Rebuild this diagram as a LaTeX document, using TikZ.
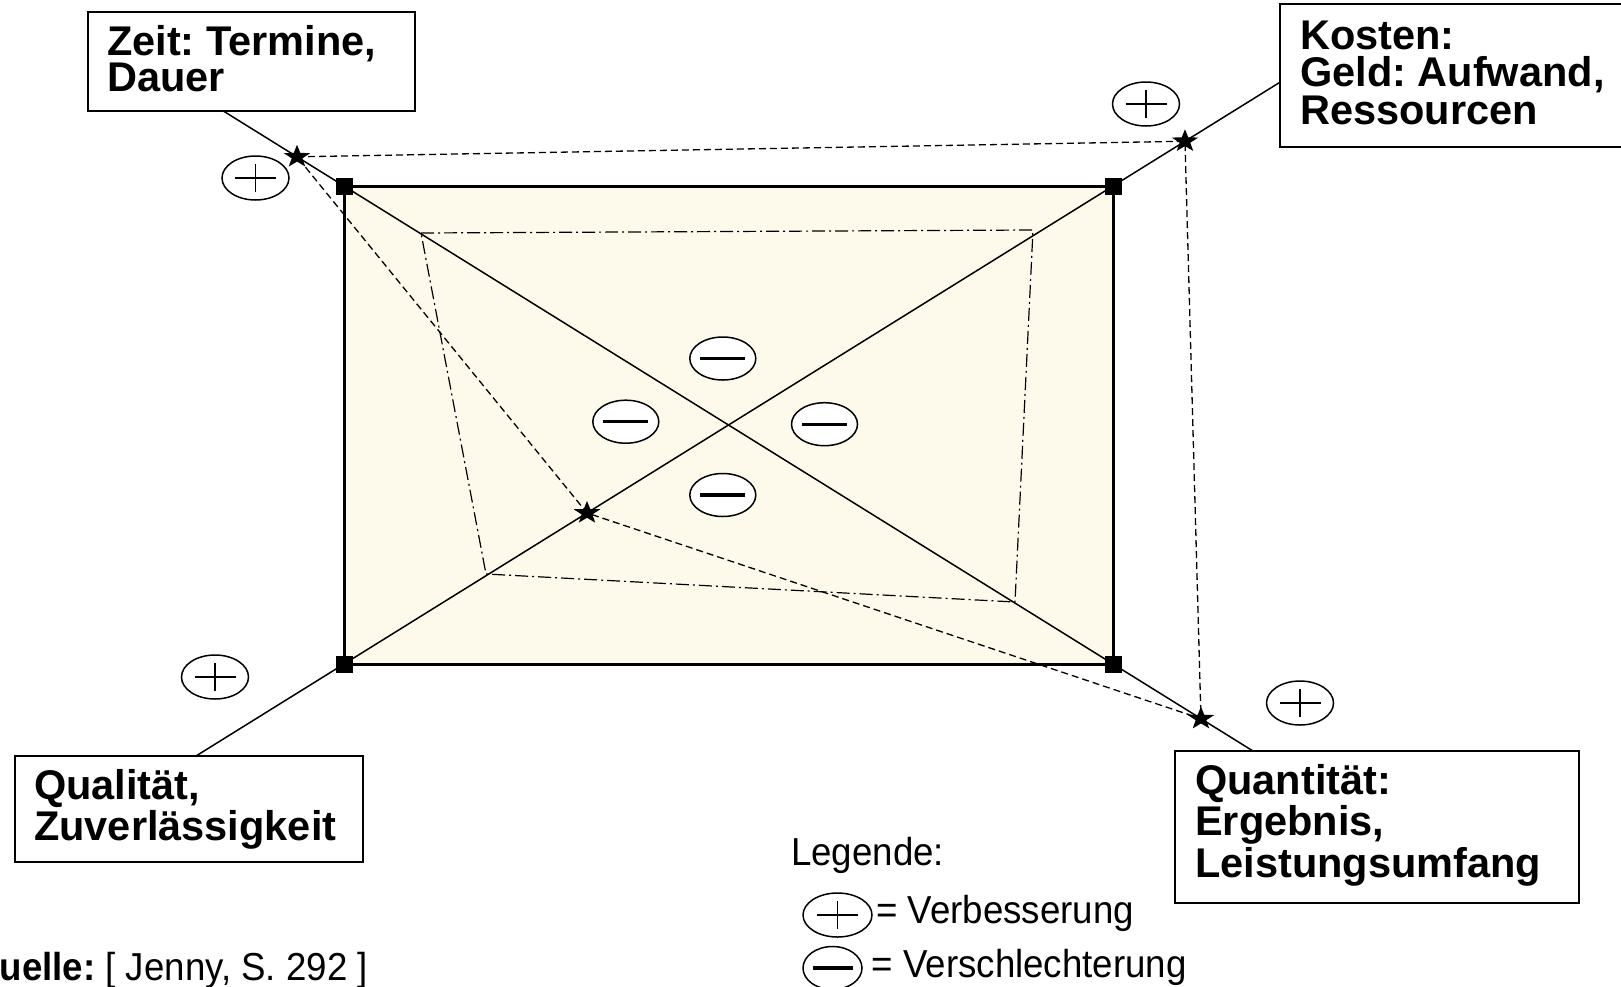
\documentclass[tikz,border=0pt]{standalone}
\usepackage{fontspec}
\setmainfont{Liberation Sans}
\newfontfamily\legendfont[FakeStretch=0.94]{Liberation Sans}
\usetikzlibrary{calc,shapes.geometric}
\definecolor{fieldcream}{RGB}{253,250,235}
\newcommand\tightlines{\lineskiplimit=-100pt\relax\lineskip=0pt\relax}

\begin{document}
\frenchspacing
\begin{tikzpicture}[x=1pt,y=-1pt,
  labelbox/.style={draw=black, line width=2pt, fill=white, inner sep=0pt, outer sep=0pt, anchor=north west},
  labeltext/.style={anchor=north west, inner sep=0pt, align=left,
    font={\bfseries\fontsize{41.5}{#1}\selectfont\tightlines\frenchspacing}},
  legendtext/.style={anchor=base west, inner sep=0pt, font={\legendfont\fontsize{39}{39}\selectfont\frenchspacing}},
  cornermark/.style={fill=black, minimum size=17pt, inner sep=0pt, outer sep=0pt},
  diagline/.style={line width=1.5pt},
  starline/.style={line width=1.3pt, dash pattern=on 7pt off 4pt},
  hullline/.style={line width=1.2pt, dash pattern=on 13pt off 4pt on 2pt off 4pt},
  plusmark/.style={ellipse, draw, fill=white, line width=1.5pt, minimum width=67pt, minimum height=44pt, inner sep=0pt,
    path picture={\draw[line width=1.5pt]
      ([xshift=-20.5pt]path picture bounding box.center) -- ([xshift=20.5pt]path picture bounding box.center)
      ([yshift=-14pt]path picture bounding box.center) -- ([yshift=14pt]path picture bounding box.center);}},
  minusmark/.style={ellipse, draw, fill=white, line width=1.5pt, minimum width=66pt, minimum height=43pt, inner sep=0pt,
    path picture={\draw[line width=3.4pt]
      ([xshift=-22.5pt]path picture bounding box.center) -- ([xshift=22.5pt]path picture bounding box.center);}},
  starmark/.pic={\fill (-90:14 and 12) -- (-54:5.6 and 4.8) -- (-18:14 and 12) -- (18:5.6 and 4.8)
      -- (54:14 and 12) -- (90:5.6 and 4.8) -- (126:14 and 12) -- (162:5.6 and 4.8)
      -- (198:14 and 12) -- (234:5.6 and 4.8) -- cycle;}
]
\path[use as bounding box, clip] (0,0) rectangle (1621,986);

% the field of the four target dimensions
\node[draw, line width=3pt, fill=fieldcream, minimum width=769pt, minimum height=478pt,
      inner sep=0pt, outer sep=0pt] (field) at (728.5,425) {};
\coordinate (cTL) at (field.north west);
\coordinate (cTR) at (field.north east);
\coordinate (cBL) at (field.south west);
\coordinate (cBR) at (field.south east);

% label boxes at the ends of the axes
\node[labelbox, minimum width=327pt, minimum height=99pt] (zeit) at (88,12) {};
\node[labelbox, minimum width=380pt, minimum height=143pt] (kosten) at (1280,4) {};
\node[labelbox, minimum width=348.5pt, minimum height=106.5pt] (quali) at (14.5,755.5) {};
\node[labelbox, minimum width=404pt, minimum height=152pt] (quanti) at (1175,750.5) {};

\node[labeltext=36] (zeittext) at (107,23) {\rule{0pt}{32pt}Zeit: Termine,\\Dauer};
\node[labeltext=37.5] (kostentext) at (1300,17) {\rule{0pt}{32pt}Kosten:\\Geld: Aufwand,\\Ressourcen};
\node[labeltext=41] (qualitext) at (34,767) {\rule{0pt}{32pt}Qualität,\\Zuverlässigkeit};
\node[labeltext=41.5] (quantitext) at (1195,762) {\rule{0pt}{32pt}Quantität:\\Ergebnis,\\Leistungsumfang};

% axes: end points and star positions along the two diagonals
\coordinate (d1a) at ($(cTL)!-0.1569!(cBR)$);
\coordinate (d1b) at ($(cTL)!1.182!(cBR)$);
\coordinate (d2a) at ($(cBL)!-0.1925!(cTR)$);
\coordinate (d2b) at ($(cBL)!1.2172!(cTR)$);
\coordinate (sTL) at ($(cTL)!-0.0611!(cBR)$);
\coordinate (sBR) at ($(cTL)!1.1144!(cBR)$);
\coordinate (sTR) at ($(cBL)!1.0936!(cTR)$);
\coordinate (sIn) at ($(cBL)!0.316!(cTR)$);

% inner quadrilateral (dash-dotted)
\coordinate (q1) at (421,233);
\coordinate (q2) at (1033,230);
\coordinate (q3) at (1015,602);
\coordinate (q4) at (486,574);
\draw[hullline] (q1) -- (q2) -- (q3) -- (q4) -- cycle;

% outer profile through the stars (dashed)
\draw[starline] (sTL) -- (sTR) -- (sBR) -- (sIn) -- cycle;

% the two diagonals
\draw[diagline] (d1a) -- (d1b);
\draw[diagline] (d2a) -- (d2b);

% corner markers
\node[cornermark] (mTL) at (cTL) {};
\node[cornermark] (mTR) at (cTR) {};
\node[cornermark] (mBL) at (cBL) {};
\node[cornermark] (mBR) at (cBR) {};

% star markers
\pic at (sTL) {starmark};
\pic at (sTR) {starmark};
\pic at (sBR) {starmark};
\pic at (sIn) {starmark};

% improvement / deterioration signs
\node[plusmark] (pTL) at (255.5,178) {};
\node[plusmark] (pTR) at (1146,104) {};
\node[plusmark] (pBL) at (215,677) {};
\node[plusmark] (pBR) at (1300,703) {};
\node[minusmark] (mTop) at (722.8,358.5) {};
\node[minusmark] (mLeft) at (625.8,421.7) {};
\node[minusmark] (mRight) at (824.5,424.2) {};
\node[minusmark] (mBottom) at (722.8,495) {};

% legend
\node[legendtext] (legtitle) at (791,865) {Legende:};
\node[plusmark, minimum width=69pt, minimum height=44pt] (legplus) at (837.5,915) {};
\node[legendtext] (legplustext) at (876,923.5) {= Verbesserung};
\node[minusmark, minimum width=59pt, minimum height=43pt,
  path picture={\draw[line width=3.4pt]
      ([xshift=-20pt]path picture bounding box.center) -- ([xshift=20pt]path picture bounding box.center);}]
  (legminus) at (832.5,968) {};
\node[legendtext] (legminustext) at (871.5,977) {= Verschlechterung};

% source
\node[legendtext] (quelle) at (-29,980) {\textbf{Quelle:} [ Jenny, S. 292 ]};
\end{tikzpicture}
\end{document}
